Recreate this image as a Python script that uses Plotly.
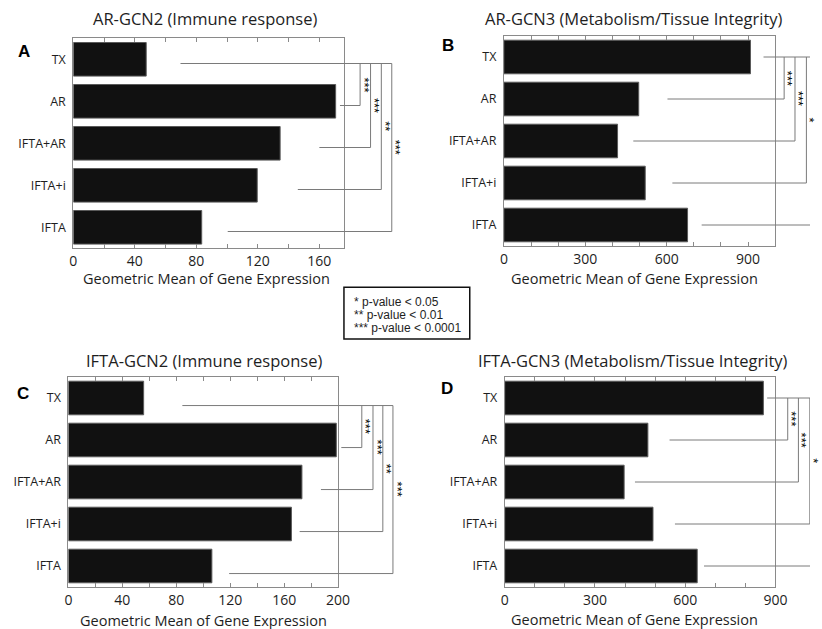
import plotly.graph_objects as go

# ---------------- data ----------------
categories = ["TX", "AR", "IFTA+AR", "IFTA+i", "IFTA"]

a_values = [47.4, 170.6, 134.5, 119.6, 83.5]
b_values = [909, 497, 419, 521, 677]
c_values = [55.8, 198.7, 173.2, 165.4, 106.4]
d_values = [860, 476, 397, 493, 640]

a_ticks = [0, 40, 80, 120, 160]
b_ticks = [0, 300, 600, 900]
c_ticks = [0, 40, 80, 120, 160, 200]
d_ticks = [0, 300, 600, 900]

# significance of TX vs AR, IFTA+AR, IFTA+i, IFTA
a_sig = ["***", "***", "**", "***"]
b_sig = ["***", "***", "*", ""]
c_sig = ["***", "***", "**", "***"]
d_sig = ["***", "***", "*", ""]

titles = ["AR-GCN2 (Immune response)",
          "AR-GCN3 (Metabolism/Tissue Integrity)",
          "IFTA-GCN2 (Immune response)",
          "IFTA-GCN3 (Metabolism/Tissue Integrity)"]
letters = ["A", "B", "C", "D"]
x_title = "Geometric Mean of Gene Expression"
legend_lines = ["* p-value < 0.05", "** p-value < 0.01", "*** p-value < 0.0001"]

# ---------------- layout (pixels in the 822x629 page) ----------------
W, H = 822, 629
def px(x):
    return x / W
def py(y):
    return 1 - y / H

panels = [
    dict(values=a_values, ticks=a_ticks, sig=a_sig, xmax=176, minor=20,
         box=(70.7, 346.7, 38.3, 248.3), wide_right=420,
         starts=[69.7, 173.4, 160, 146, 100.4], brackets=[186.5, 193.3, 200.3, 207.1],
         off=0.1, title=(205, 19), letter=(20, 52), xt=(207, 278)),
    dict(values=b_values, ticks=b_ticks, sig=b_sig, xmax=1000, minor=100,
         box=(509.8, 786.5, 36, 246), wide_right=822,
         starts=[957, 603, 477, 621, 729], brackets=[1033, 1073, 1115, 1150],
         off=0.0, title=(642, 19), letter=(453, 45), xt=(643, 278)),
    dict(values=c_values, ticks=c_ticks, sig=c_sig, xmax=200, minor=20,
         box=(65.7, 340.7, 377, 587), wide_right=420,
         starts=[84.5, 202.4, 187.3, 171.5, 119.2], brackets=[217.6, 225.9, 233.2, 240.7],
         off=0.18, title=(204, 360), letter=(19, 393), xt=(203, 620)),
    dict(values=d_values, ticks=d_ticks, sig=d_sig, xmax=900, minor=100,
         box=(510.7, 786.7, 377, 587), wide_right=822,
         starts=[872.6, 548, 433, 566, 662.7], brackets=[941, 976.6, 1014.5, 1050],
         off=0.0, title=(641, 360), letter=(452, 388), xt=(643, 619)),
]

TEXT = "#1e1e1e"
AXC = "#8a8a8a"
LINEC = "#7a7a7a"
FONT = "Open Sans"

fig = go.Figure()
annotations = []
shapes = []
layout = {}
ypos = list(range(len(categories)))

for i, p in enumerate(panels):
    s = i + 1
    w = i + 5
    x0, x1, y0, y1 = p["box"]
    d0, d1 = px(x0), px(x1)
    dw = min(px(p["wide_right"]), 1.0)
    wide_max = p["xmax"] * (dw - d0) / (d1 - d0)

    layout[f"xaxis{s}"] = dict(
        domain=[d0, d1], range=[0, p["xmax"]], anchor=f"y{s}",
        tickvals=p["ticks"], ticks="inside", ticklen=4, tickcolor=AXC,
        minor=dict(dtick=p["minor"], tick0=0, ticks="inside", ticklen=4, tickcolor=AXC),
        showline=True, linecolor=AXC, linewidth=1, mirror="ticks",
        showgrid=False, zeroline=False,
        tickfont=dict(family=FONT, size=14, color=TEXT), ticklabelstandoff=0)
    layout[f"xaxis{w}"] = dict(
        domain=[d0, dw], range=[0, wide_max], anchor=f"y{s}", visible=False,
        showgrid=False, zeroline=False)
    layout[f"yaxis{s}"] = dict(
        domain=[py(y1), py(y0)], range=[4.5, -0.5], anchor=f"x{s}",
        tickvals=ypos, ticktext=categories, ticks="",
        showline=True, linecolor=AXC, linewidth=1, mirror=True,
        showgrid=False, zeroline=False,
        tickfont=dict(family=FONT, size=12.5, color=TEXT), ticklabelstandoff=4)

    fig.add_trace(go.Bar(
        x=p["values"], y=ypos, orientation="h",
        marker=dict(color="#111111", line=dict(color="#5a5a5a", width=1)),
        xaxis=f"x{s}", yaxis=f"y{s}", showlegend=False, hoverinfo="skip"))

    # bracket lines
    bx, by = [], []
    br = p["brackets"]
    off = p["off"]
    for k, st in enumerate(p["starts"]):
        end = max(br) if k == 0 else br[k - 1]
        bx += [st, end, None]
        by += [k + off, k + off, None]
    for j, b in enumerate(br):
        bx += [b, b, None]
        by += [0 + off, j + 1 + off, None]
    fig.add_trace(go.Scatter(
        x=bx, y=by, mode="lines", line=dict(color=LINEC, width=1),
        xaxis=f"x{w}", yaxis=f"y{s}", showlegend=False, hoverinfo="skip"))

    for j, b in enumerate(br):
        if p["sig"][j]:
            annotations.append(dict(
                x=b, y=(j + 1) / 2 + off, xref=f"x{w}", yref=f"y{s}",
                text=p["sig"][j], textangle=90, showarrow=False, xshift=4,
                xanchor="center", yanchor="middle", opacity=0.99,
                font=dict(family="Liberation Sans", size=13, color="#000")))

    tx, ty = p["title"]
    annotations.append(dict(x=px(tx), y=py(ty), xref="paper", yref="paper",
                            text=titles[i], showarrow=False,
                            xanchor="center", yanchor="middle",
                            font=dict(family=FONT, size=16.5, color=TEXT)))
    lx, ly = p["letter"]
    annotations.append(dict(x=px(lx), y=py(ly), xref="paper", yref="paper",
                            text=f"<b>{letters[i]}</b>", showarrow=False,
                            xanchor="center", yanchor="middle",
                            font=dict(family="Liberation Sans", size=17, color="#000")))
    xx, xy = p["xt"]
    annotations.append(dict(x=px(xx), y=py(xy), xref="paper", yref="paper",
                            text=x_title, showarrow=False,
                            xanchor="center", yanchor="middle",
                            font=dict(family=FONT, size=14.5, color=TEXT)))

# p-value legend box
shapes.append(dict(type="rect", xref="paper", yref="paper",
                   x0=px(346.7), x1=px(475), y0=py(339), y1=py(287.3),
                   line=dict(color="#111", width=1.5), fillcolor="white"))
for n, t in enumerate(legend_lines):
    annotations.append(dict(x=px(355), y=py(301.7 + 13.3 * n), xref="paper", yref="paper",
                            text=t, showarrow=False, xanchor="left", yanchor="middle",
                            font=dict(family="Liberation Sans", size=12, color=TEXT)))

fig.update_layout(
    autosize=True, margin=dict(l=0, r=0, t=0, b=0),
    paper_bgcolor="white", plot_bgcolor="rgba(0,0,0,0)",
    bargap=0.2, annotations=annotations, shapes=shapes, **layout)

fig.write_html("out.html", config={"displayModeBar": False, "responsive": True},
               default_width="100vw", default_height="100vh",
               post_script="document.body.style.margin='0';document.body.style.overflow='hidden';")
